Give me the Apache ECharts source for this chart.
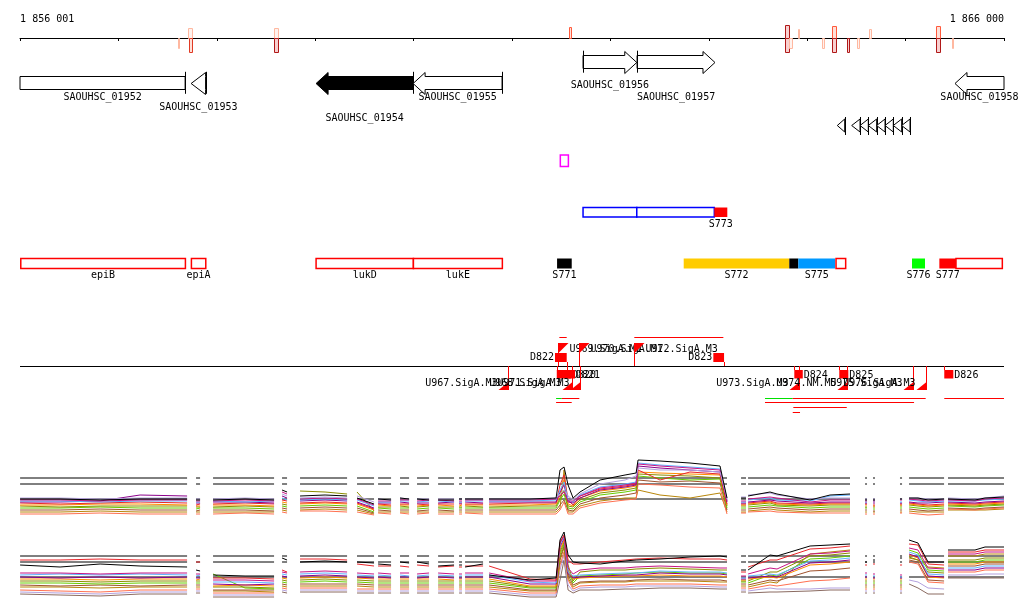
<!DOCTYPE html>
<html><head><meta charset="utf-8">
<script src="https://cdn.jsdelivr.net/npm/echarts@6/dist/echarts.min.js"></script>
<style>html,body{margin:0;padding:0;background:#fff}#c{width:1024px;height:611px}</style>
</head><body><div id="c"></div>
<script>
// ---------------- DATA ----------------
const XMIN = 1856000, XMAX = 1866000;
const axisEndLabels = [[1856001, '1 856 001'], [1866000, '1 866 000']];

// signal marks on the coordinate axis: [start, end, signed height, intensity level]
const signalMarks = [
  [1857607, 1857622, -10, 1],
  [1857708, 1857746, 10, 1], [1857718, 1857746, -14, 3],
  [1858582, 1858620, 10, 1], [1858582, 1858620, -14, 4],
  [1861580, 1861600, 11, 2],
  [1863775, 1863812, 13, 4], [1863775, 1863812, -14, 4],
  [1863815, 1863846, -10, 1],
  [1863904, 1863917, 9, 1],
  [1864148, 1864164, -10, 1],
  [1864252, 1864290, 12, 2], [1864252, 1864290, -14, 4],
  [1864405, 1864425, -14, 4],
  [1864506, 1864523, -10, 1],
  [1864628, 1864649, 9, 1],
  [1865309, 1865350, 12, 2], [1865309, 1865350, -14, 4],
  [1865469, 1865482, -10, 1]
];

// genes: [name, start, end, strand]
const genes = [
  ['SAOUHSC_01952', 1855600, 1857678, -1],
  ['SAOUHSC_01953', 1857739, 1857886, -1],
  ['SAOUHSC_01954', 1859009, 1859995, -1],
  ['SAOUHSC_01955', 1859995, 1860899, -1],
  ['SAOUHSC_01956', 1861722, 1862268, 1],
  ['SAOUHSC_01957', 1862271, 1863063, 1],
  ['SAOUHSC_01958', 1865502, 1866400, -1]
];
const selectedGene = 'SAOUHSC_01954';

// small reverse-strand elements: [start, end]
const smallElements = [
  [1864306, 1864381], [1864452, 1864537], [1864537, 1864621], [1864621, 1864706],
  [1864706, 1864791], [1864791, 1864875], [1864875, 1864960], [1864960, 1865045]
];

const probeMarks = [[1861491, 1861573]];

// S773 parts: [label, start, end, kind]
const s773Parts = [
  ['', 1861722, 1862268, 'blueOutline'],
  ['', 1862268, 1863056, 'blueOutline'],
  ['S773', 1863056, 1863188, 'red']
];

// annotated features: [label, start, end, kind]
const features = [
  ['epiB', 1856008, 1857681, 'outline'],
  ['epiA', 1857742, 1857888, 'outline'],
  ['lukD', 1859009, 1859998, 'outline'],
  ['lukE', 1859998, 1860902, 'outline'],
  ['S771', 1861458, 1861607, 'black'],
  ['S772', 1862745, 1863818, 'yellow'],
  ['', 1863818, 1863910, 'black'],
  ['S775', 1863910, 1864283, 'blue'],
  ['', 1864293, 1864391, 'outline'],
  ['S776', 1865065, 1865197, 'green'],
  ['S777', 1865343, 1865512, 'red'],
  ['', 1865512, 1865983, 'outline']
];

// TSS markers: [position, label]
const tssPlus = [[1861471, 'U969.SigA.M1'], [1861684, 'U970.SigA.M1'], [1862243, 'U972.SigA.M3']];
const tssMinus = [
  [1860963, 'U967.SigA.M3'], [1861607, 'U968.SigA.M3'], [1861692, 'U971.SigA.M3'],
  [1863920, 'U973.SigA.M3'], [1864402, 'U974.NM.M5'], [1865075, 'U975.SigA.M3'], [1865204, 'U976.SigA.M3']
];
// D segments: [label, start, end, strand]
const dSegments = [
  ['D822', 1861437, 1861556, 1],
  ['D823', 1863046, 1863155, 1],
  ['D820', 1861455, 1861600, -1],
  ['D821', 1861560, 1861640, -1],
  ['D824', 1863869, 1863955, -1],
  ['D825', 1864326, 1864418, -1],
  ['D826', 1865393, 1865485, -1]
];
// transcript lines: [start, end, lane, type]
const transcripts = [
  [1861481, 1861556, -1, 'r'], [1862243, 1863148, -1, 'r'],
  [1861448, 1861506, 0, 'g'], [1861506, 1861684, 0, 'r'], [1863571, 1863853, 0, 'g'],
  [1863853, 1865204, 0, 'r'], [1865393, 1866000, 0, 'r'],
  [1861448, 1861607, 1, 'r'], [1863571, 1865086, 1, 'r'],
  [1863859, 1864402, 2, 'r'],
  [1863853, 1863927, 3, 'r']
];

// expression profiles
const coveredRegions = [
  [1856001, 1857698], [1857789, 1857830], [1857962, 1858582], [1858663, 1858714], [1858846, 1859324],
  [1859425, 1859598], [1859639, 1859771], [1859862, 1859954], [1860035, 1860157], [1860249, 1860411],
  [1860462, 1860492], [1860523, 1860706], [1860767, 1863185], [1863328, 1863378], [1863399, 1864435],
  [1864588, 1864608], [1864669, 1864689], [1864943, 1864964], [1865035, 1865391], [1865431, 1866000]
];
const probePositions = [1856001,1856407,1856814,1857220,1857698, 1857789,1857830, 1857962,1858287,1858582, 1858663,1858714, 1858846,1859100,1859324, 1859425,1859598, 1859639,1859771, 1859862,1859954, 1860035,1860157, 1860249,1860411, 1860462,1860492, 1860523,1860706, 1860767,1861183,1861448,1861488,1861529,1861570,1861621,1861691,1861895,1862149,1862261,1862281,1862504,1862809,1863114,1863185, 1863328,1863378, 1863399,1863622,1863693,1864029,1864232,1864435, 1864588,1864608, 1864669,1864689, 1864943,1864964, 1865035,1865126,1865228,1865391, 1865431,1865705,1865807,1866000];

const refLevelsA = [42, 36, 21];
const refLevelsB = [44, 38, 23];

const A_blue = [19,19,18,19,19, 18,18, 19,18,19, 22,20, 20,21,20, 20,14, 18,18, 19,19, 18,19, 19,18, 18,18, 19,19, 19,19,20,30,38,20,18,25,33,36,38,57,55,53,51,20, 18,18, 20,22,20,19,24,25, 18,18, 19,19, 18,18, 20,19,18,19, 19,19,20,21];
const A_purple = [18,18,19,25,24, 17,17, 18,18,17, 24,22, 19,20,19, 18,12, 17,17, 18,17, 17,17, 17,18, 17,17, 18,17, 18,18,18,28,35,18,17,22,30,33,35,54,52,50,48,18, 17,17, 18,20,19,17,18,18, 17,17, 17,17, 17,17, 18,17,17,18, 18,17,18,19];
const A_red = [17,16,17,18,17, 15,16, 16,17,16, 20,19, 17,18,17, 17,11, 16,15, 16,16, 16,15, 16,16, 16,16, 16,16, 16,17,17,35,45,20,15,24,31,34,36,50,40,48,46,16, 16,16, 17,19,17,16,17,17, 16,16, 15,15, 16,16, 17,16,15,16, 17,16,17,18];
const A_orange = [15,15,16,16,15, 14,14, 15,15,14, 18,17, 16,17,16, 16,10, 15,14, 15,15, 14,15, 15,14, 14,15, 15,15, 15,15,16,25,40,16,14,22,29,32,34,48,47,46,45,15, 15,15, 16,18,16,15,16,16, 15,15, 14,14, 15,15, 16,15,14,15, 16,15,16,17];
const A_olive = [14,13,14,14,14, 13,13, 13,14,13, 16,15, 29,28,26, 28,9, 13,13, 14,13, 13,14, 13,13, 13,13, 14,13, 13,14,14,22,30,14,13,20,27,30,32,46,45,44,42,14, 14,14, 15,17,15,14,15,15, 13,13, 13,13, 14,14, 15,14,13,14, 15,14,15,16];
const A_green = [12,12,13,12,12, 11,12, 12,12,11, 14,13, 14,15,14, 14,8, 12,11, 12,12, 11,12, 12,11, 12,12, 12,12, 12,12,12,20,26,12,11,18,25,28,30,44,42,40,41,12, 12,12, 13,15,14,12,13,13, 12,12, 11,11, 12,12, 13,12,11,12, 14,13,14,15];
const A_sienna = [10,10,11,10,10, 9,10, 10,10,9, 12,11, 12,13,12, 12,7, 10,9, 10,10, 9,10, 10,9, 10,10, 10,10, 10,10,10,15,20,10,9,16,22,25,27,40,38,39,37,10, 10,10, 11,13,12,10,11,11, 10,10, 9,9, 10,10, 11,10,9,10, 12,11,12,13];
const A_gold = [8,8,9,8,8, 8,8, 8,8,8, 10,9, 10,11,10, 10,6, 8,8, 8,8, 8,8, 8,8, 8,8, 8,8, 8,8,8,12,50,8,8,14,19,22,22,30,25,22,27,8, 8,8, 9,11,10,8,9,9, 8,8, 8,8, 8,8, 9,8,8,8, 10,10,10,11];
const A_salmon = [6,6,7,6,6, 6,6, 6,7,6, 8,7, 9,9,8, 8,5, 7,6, 7,6, 6,7, 6,6, 6,6, 7,6, 6,6,6,10,18,6,6,12,17,20,21,36,35,33,32,6, 7,7, 8,9,8,7,7,7, 6,6, 6,6, 7,7, 7,6,5,6, 11,10,11,12];
const A_lavender = [22,22,21,22,22, 21,21, 21,22,21, 26,24, 22,23,22, 24,18, 21,20, 22,21, 21,21, 21,21, 21,21, 21,21, 21,21,22,26,30,24,20,26,36,40,44,52,50,50,48,21, 23,23, 25,27,25,21,22,22, 21,21, 21,21, 21,21, 22,22,21,21, 22,21,22,24];
const A_magenta = [20,20,19,20,20, 19,19, 19,20,19, 28,26, 21,22,21, 21,15, 19,19, 20,20, 19,20, 20,19, 19,19, 20,20, 20,20,21,24,28,19,19,24,32,35,37,56,54,52,50,19, 19,19, 21,23,22,18,20,20, 19,19, 19,19, 20,20, 21,20,19,20, 20,19,21,22];
const A_black = [21,21,20,21,21, 20,20, 20,21,20, 30,28, 24,25,24, 22,16, 21,20, 22,21, 21,20, 20,20, 21,21, 21,21, 21,21,22,50,53,35,22,28,40,45,47,60,59,57,54,22, 22,22, 24,28,26,20,25,26, 20,20, 20,20, 21,21, 22,22,20,21, 21,20,22,23];

const B_taupe = [6,5,4,6,6, 7,7, 3,3,3, 8,7, 8,8,8, 7,7, 7,7, 7,7, 7,7, 7,7, 7,7, 7,7, 7,3,3,20,40,10,7,10,10,11,11,11,12,12,11,11, 8,8, 7,8,8,9,10,10, 7,7, 7,7, 7,7, 16,12,6,6, 22,22,22,22];
const B_lavender = [8,7,6,8,8, 9,9, 5,5,5, 10,9, 10,10,10, 9,9, 9,9, 9,9, 9,9, 9,9, 9,9, 9,9, 9,5,5,30,45,15,9,12,13,13,14,14,14,14,13,13, 10,10, 9,12,11,11,12,12, 9,9, 9,9, 9,9, 20,18,12,11, 25,25,26,26];
const B_salmon = [10,9,8,10,10, 11,11, 7,7,7, 12,11, 12,12,12, 11,11, 11,11, 11,11, 11,11, 11,11, 11,11, 11,11, 11,7,7,35,48,20,11,14,15,15,16,16,16,16,15,15, 12,12, 11,15,14,19,20,22, 11,11, 11,11, 11,11, 38,36,18,17, 28,28,30,30];
const B_gold = [13,13,12,13,13, 13,13, 9,9,8, 14,13, 14,14,14, 14,13, 13,13, 13,13, 13,13, 13,13, 13,13, 13,13, 13,9,9,40,52,22,13,17,18,18,19,19,19,19,18,18, 14,14, 13,18,17,46,48,50, 13,13, 13,13, 13,13, 42,40,33,32, 44,44,46,46];
const B_sienna = [15,14,15,14,15, 15,15, 10,10,10, 16,15, 16,16,16, 16,15, 15,15, 15,15, 15,15, 15,15, 15,15, 15,15, 15,10,10,42,54,25,15,18,19,19,20,20,21,20,20,19, 16,16, 15,20,19,29,30,32, 15,15, 15,15, 15,15, 40,38,20,19, 34,34,36,36];
const B_green = [17,17,16,17,17, 17,17, 26,12,11, 18,17, 18,19,18, 18,17, 17,17, 17,17, 17,17, 17,17, 17,17, 17,17, 17,12,12,45,56,30,17,24,25,26,27,28,28,27,27,26, 18,18, 17,25,24,41,42,44, 17,17, 17,17, 17,17, 50,47,30,29, 38,38,40,40];
const B_olive = [19,19,18,19,19, 19,19, 13,13,12, 20,19, 20,21,20, 20,19, 19,19, 19,19, 19,19, 19,19, 19,19, 19,19, 19,13,13,48,58,35,19,28,30,30,31,31,32,31,30,30, 19,19, 19,28,28,44,45,47, 19,19, 19,19, 19,19, 43,40,28,27, 40,40,42,42];
const B_orange = [21,21,20,21,21, 20,21, 14,15,14, 22,21, 22,23,22, 22,21, 21,21, 21,21, 21,21, 21,20, 21,21, 21,21, 21,14,14,50,60,30,21,22,23,24,24,24,25,24,24,23, 20,20, 21,23,22,35,36,38, 21,21, 21,21, 21,21, 45,42,23,22, 36,36,38,38];
const B_purple = [23,22,23,22,23, 22,22, 16,15,16, 24,23, 24,25,24, 23,22, 23,22, 23,23, 22,23, 23,22, 22,22, 23,23, 23,16,16,53,62,26,22,23,24,25,25,26,27,26,26,25, 21,21, 22,24,23,37,38,40, 23,23, 22,22, 22,22, 46,43,24,23, 30,30,32,32];
const B_blue = [25,26,25,26,25, 24,25, 18,18,17, 26,25, 26,27,26, 25,24, 25,24, 25,24, 24,25, 25,24, 24,24, 25,25, 25,18,17,55,63,28,24,25,26,27,27,28,29,28,28,27, 22,22, 24,26,25,39,40,42, 25,25, 24,24, 23,23, 48,45,26,25, 32,32,34,34];
const B_magenta = [27,27,26,27,27, 26,26, 20,20,19, 28,27, 28,29,28, 27,26, 27,26, 27,27, 26,27, 27,26, 26,26, 27,27, 27,19,19,57,64,32,26,30,32,32,33,33,34,33,32,32, 24,24, 26,32,31,46,47,49, 27,27, 26,26, 25,25, 52,50,32,31, 46,46,48,48];
const B_red = [40,40,41,40,40, 38,38, 22,22,21, 30,28, 41,41,40, 36,34, 34,34, 34,33, 35,34, 33,34, 33,33, 34,34, 34,21,20,58,65,40,36,36,38,40,41,41,42,41,41,40, 28,28, 33,40,40,51,52,54, 35,35, 36,36, 35,35, 56,55,36,35, 48,48,50,50];
const B_black = [35,33,36,34,33, 30,29, 25,24,24, 42,40, 38,39,38, 38,37, 36,35, 38,37, 38,36, 34,35, 35,35, 33,36, 25,20,22,60,68,45,38,37,36,39,40,40,41,43,44,43, 30,30, 30,45,44,54,55,56, 38,38, 40,40, 42,42, 60,57,38,38, 50,50,53,53];

// ---------------- LAYOUT / STYLE ----------------
const LY = {
  gridTop: 38, gridHeight: 402, axisLabelY: 19, markBase: 38,
  fwdGeneY: 61.7, revGeneY: 82.8, bodyHalf: 6.5, headHalf: 11, headLen: 12,
  geneLabelY: [97, 107, 118, 97, 85, 97, 97],
  orfY: 125.5, orfHalf: 6.5, orfBarTop: 117, orfBarBot: 135,
  probeTop: 155, probeBot: 166.5,
  s773Top: 207.5, s773Bot: 217, s773LabelY: 224.5,
  featTop: 258.5, featBot: 268.5, featLabelY: 275.5,
  midY: 366, tssPlusTop: 343, flagW: 10, flagH: 10, tssMinusBot: 390, wedgeW: 10, wedgeH: 8,
  tssPlusLabelY: 349.5, tssMinusLabelY: 383.5,
  dPlusTop: 353, dPlusBot: 362, dMinusTop: 370, dMinusBot: 378.5, dPlusLabelY: 357.5, dMinusLabelY: 375.5,
  lanes: { '-1': 336.5, '0': 397.5, '1': 401.5, '2': 406.5, '3': 411.5 }
};
const FONT = '10px "DejaVu Sans Mono", monospace';
const MARK_STROKE = { 1: '#ffb8a0', 2: '#ff5a3c', 3: '#e03a24', 4: '#b01818' };
const MARK_FILL = { 1: '#fff2ee', 2: '#ffe0d8', 3: '#ffe0d8', 4: '#f8d0d0' };
const FEATURE_STYLE = {
  outline: { fill: '#fff', stroke: '#ff0000', lineWidth: 1.5 },
  blueOutline: { fill: '#fff', stroke: '#0000ff', lineWidth: 1.5 },
  black: { fill: '#000' }, yellow: { fill: '#ffcc00' }, blue: { fill: '#0099ff' },
  green: { fill: '#00ff00' }, red: { fill: '#ff0000' }
};

// ---------------- HELPERS ----------------
function ctx(params, api) {
  const cs = params.coordSys;
  return {
    L: cs.x, R: cs.x + cs.width,
    X: bp => api.coord([bp, 0])[0],
    Y: y => api.coord([XMIN, y - LY.gridTop])[1]
  };
}
const clamp = (v, a, b) => Math.max(a, Math.min(b, v));
const crisp = v => Math.round(v) + 0.5;
function txt(text, x, y, align) {
  return { type: 'text', silent: true, style: { text, x, y, font: FONT, fill: '#000',
    textAlign: align || 'center', textVerticalAlign: 'middle', align: align || 'center', verticalAlign: 'middle' } };
}
function custom(items, render, z) {
  return { type: 'custom', coordinateSystem: 'cartesian2d', xAxisIndex: 0, yAxisIndex: 0,
    silent: true, animation: false, z: z || 2,
    data: items.map(() => [XMIN, 0]),
    renderItem: (params, api) => render(items[params.dataIndex], ctx(params, api), params.dataIndex) };
}

// ---------------- SERIES ----------------
const series = [];

series.push(custom(axisEndLabels, (d, c, i) =>
  txt(d[1], c.X(d[0]), c.Y(LY.axisLabelY), i === 0 ? 'left' : 'right')));

series.push(custom(signalMarks, (d, c) => {
  const x1 = c.X(d[0]), x2 = c.X(d[1]);
  const w = Math.max(x2 - x1, 1.2);
  const base = c.Y(LY.markBase);
  const h = Math.abs(d[2]);
  const y = d[2] > 0 ? base - h : base;
  return { type: 'rect', shape: { x: Math.round(x1) + 0.5, y: Math.round(y) + 0.5, width: Math.max(Math.round(w), 1), height: h },
    style: { fill: MARK_FILL[d[3]], stroke: MARK_STROKE[d[3]], lineWidth: 1 } };
}, 3));

series.push(custom(genes, (g, c, i) => {
  const xa = c.X(g[1]), xb = c.X(g[2]);
  const yc = c.Y(g[3] > 0 ? LY.fwdGeneY : LY.revGeneY);
  const len = xb - xa;
  const head = len < 16 ? len : LY.headLen;
  const bh = LY.bodyHalf, hh = LY.headHalf;
  const ca = clamp(xa, c.L, c.R), cb = clamp(xb, c.L, c.R);
  let pts;
  if (g[3] < 0) {
    if (xa + head <= c.L) pts = [[ca, yc - bh], [cb, yc - bh], [cb, yc + bh], [ca, yc + bh]];
    else pts = [[xa, yc], [xa + head, yc - hh], [xa + head, yc - bh], [cb, yc - bh], [cb, yc + bh], [xa + head, yc + bh], [xa + head, yc + hh]];
  } else {
    if (xb - head >= c.R) pts = [[ca, yc - bh], [cb, yc - bh], [cb, yc + bh], [ca, yc + bh]];
    else pts = [[xb, yc], [xb - head, yc - hh], [xb - head, yc - bh], [ca, yc - bh], [ca, yc + bh], [xb - head, yc + bh], [xb - head, yc + hh]];
  }
  pts = pts.map(p => [p[0], Math.round(p[1]) + 0.5]);
  const sel = g[0] === selectedGene;
  const children = [{ type: 'polygon', shape: { points: pts },
    style: { fill: sel ? '#000' : '#fff', stroke: '#000', lineWidth: 1 } }];
  const tail = g[3] < 0 ? xb : xa;
  if (tail >= c.L && tail <= c.R) {
    children.push({ type: 'line', shape: { x1: crisp(tail), y1: yc - hh, x2: crisp(tail), y2: yc + hh }, style: { stroke: '#000', lineWidth: 1 } });
  }
  children.push(txt(g[0], (ca + cb) / 2, c.Y(LY.geneLabelY[i])));
  return { type: 'group', children };
}));

series.push(custom(smallElements, (d, c) => {
  const xa = c.X(d[0]), xb = c.X(d[1]);
  const y = c.Y(LY.orfY);
  return { type: 'group', children: [
    { type: 'polygon', shape: { points: [[xa, y], [xb, y - LY.orfHalf], [xb, y + LY.orfHalf]] }, style: { fill: '#fff', stroke: '#000', lineWidth: 1 } },
    { type: 'line', shape: { x1: crisp(xb), y1: c.Y(LY.orfBarTop), x2: crisp(xb), y2: c.Y(LY.orfBarBot) }, style: { stroke: '#000', lineWidth: 1 } }
  ] };
}));

series.push(custom(probeMarks, (d, c) => {
  const x1 = c.X(d[0]), x2 = c.X(d[1]);
  const y1 = c.Y(LY.probeTop), y2 = c.Y(LY.probeBot);
  return { type: 'rect', shape: { x: x1, y: y1, width: x2 - x1, height: y2 - y1 }, style: { fill: '#fff', stroke: '#ff00ff', lineWidth: 1.5 } };
}));

function boxRender(top, bot, labelY) {
  return (d, c) => {
    const x1 = c.X(d[1]), x2 = c.X(d[2]);
    const y1 = c.Y(top), y2 = c.Y(bot);
    const st = FEATURE_STYLE[d[3]];
    const children = [{ type: 'rect', shape: { x: x1, y: y1, width: x2 - x1, height: y2 - y1 },
      style: { fill: st.fill, stroke: st.stroke || null, lineWidth: st.lineWidth || 0 } }];
    if (d[0]) children.push(txt(d[0], (x1 + x2) / 2, c.Y(labelY)));
    return { type: 'group', children };
  };
}
series.push(custom(s773Parts, boxRender(LY.s773Top, LY.s773Bot, LY.s773LabelY)));
series.push(custom(features, boxRender(LY.featTop, LY.featBot, LY.featLabelY)));

series.push(custom([[XMIN, XMAX]], (d, c) => {
  const y = crisp(c.Y(LY.midY));
  return { type: 'line', shape: { x1: c.X(d[0]), y1: y, x2: c.X(d[1]), y2: y }, style: { stroke: '#000', lineWidth: 1 } };
}, 2));

series.push(custom(transcripts, (d, c) => {
  const y = crisp(c.Y(LY.lanes[String(d[2])]));
  return { type: 'line', shape: { x1: c.X(d[0]), y1: y, x2: clamp(c.X(d[1]), c.L, c.R), y2: y },
    style: { stroke: d[3] === 'g' ? '#00e000' : '#ff0000', lineWidth: 1 } };
}, 3));

series.push(custom(dSegments, (d, c) => {
  const x1 = c.X(d[1]), x2 = c.X(d[2]);
  const mid = c.Y(LY.midY);
  const children = [];
  if (d[3] > 0) {
    const t = c.Y(LY.dPlusTop), b = c.Y(LY.dPlusBot);
    children.push({ type: 'rect', shape: { x: x1, y: t, width: x2 - x1, height: b - t }, style: { fill: '#ff0000' } });
    children.push({ type: 'line', shape: { x1: crisp(x2), y1: b, x2: crisp(x2), y2: mid }, style: { stroke: '#ff0000', lineWidth: 1 } });
    children.push(txt(d[0], x1 - 1, c.Y(LY.dPlusLabelY), 'right'));
  } else {
    const t = c.Y(LY.dMinusTop), b = c.Y(LY.dMinusBot);
    children.push({ type: 'rect', shape: { x: x1, y: t, width: x2 - x1, height: b - t }, style: { fill: '#ff0000' } });
    children.push({ type: 'line', shape: { x1: crisp(x1), y1: mid, x2: crisp(x1), y2: t }, style: { stroke: '#ff0000', lineWidth: 1 } });
    children.push(txt(d[0], x2 + 1, c.Y(LY.dMinusLabelY), 'left'));
  }
  return { type: 'group', children };
}, 4));

series.push(custom(tssPlus, (d, c) => {
  const x = crisp(c.X(d[0]));
  const top = c.Y(LY.tssPlusTop), mid = c.Y(LY.midY);
  return { type: 'group', children: [
    { type: 'line', shape: { x1: x, y1: mid, x2: x, y2: top }, style: { stroke: '#ff0000', lineWidth: 1 } },
    { type: 'polygon', shape: { points: [[x, top], [x + LY.flagW, top], [x, top + LY.flagH]] }, style: { fill: '#ff0000' } },
    txt(d[1], x + LY.flagW + 1, c.Y(LY.tssPlusLabelY), 'left')
  ] };
}, 4));

series.push(custom(tssMinus, (d, c) => {
  const x = crisp(c.X(d[0]));
  const bot = c.Y(LY.tssMinusBot), mid = c.Y(LY.midY);
  return { type: 'group', children: [
    { type: 'line', shape: { x1: x, y1: mid, x2: x, y2: bot }, style: { stroke: '#ff0000', lineWidth: 1 } },
    { type: 'polygon', shape: { points: [[x, bot], [x - LY.wedgeW, bot], [x, bot - LY.wedgeH]] }, style: { fill: '#ff0000' } },
    txt(d[1], x - LY.wedgeW - 1, c.Y(LY.tssMinusLabelY), 'right')
  ] };
}, 4));

// ---------------- EXPRESSION PANELS ----------------
function segIndex(p) { return coveredRegions.findIndex(s => p >= s[0] && p <= s[1]); }
function buildLine(values) {
  const out = []; let prev = -1;
  probePositions.forEach((p, i) => {
    const s = segIndex(p);
    if (prev !== -1 && s !== prev) out.push([(probePositions[i - 1] + p) / 2, '-']);
    out.push([p, values[i]]); prev = s;
  });
  return out;
}
function refLine(v) {
  const out = [];
  coveredRegions.forEach(s => { out.push([s[0], v], [s[1], v], [s[1] + 1, '-']); });
  return out;
}
function lineSeries(data, color, axis, z) {
  return { type: 'line', xAxisIndex: axis, yAxisIndex: axis, data, showSymbol: false, symbol: 'none',
    connectNulls: false, silent: true, animation: false, z: z || 2,
    lineStyle: { width: 1, color }, itemStyle: { color } };
}
refLevelsA.forEach(v => series.push(lineSeries(refLine(v), '#000', 1, 1)));
refLevelsB.forEach(v => series.push(lineSeries(refLine(v), '#000', 2, 1)));

const panelA = [
  [A_gold, '#b8860b'], [A_salmon, '#ff7050'], [A_sienna, '#a0522d'], [A_green, '#66cc00'],
  [A_olive, '#8c8c00'], [A_orange, '#ff8c00'], [A_red, '#e8262b'], [A_purple, '#8b008b'],
  [A_blue, '#5fb2ff'], [A_magenta, '#c71585'], [A_lavender, '#b3a0dd'], [A_black, '#000000']
];
const panelB = [
  [B_taupe, '#8b6b61'], [B_lavender, '#b3a0dd'], [B_salmon, '#ff7050'], [B_gold, '#b8860b'],
  [B_sienna, '#a0522d'], [B_green, '#66cc00'], [B_olive, '#8c8c00'], [B_orange, '#ff8c00'],
  [B_purple, '#8b008b'], [B_blue, '#5fb2ff'], [B_magenta, '#c71585'], [B_red, '#e8262b'], [B_black, '#000000']
];
panelA.forEach(p => series.push(lineSeries(buildLine(p[0]), p[1], 1, 3)));
panelB.forEach(p => series.push(lineSeries(buildLine(p[0]), p[1], 2, 3)));

// ---------------- CHART ----------------
const chart = echarts.init(document.getElementById('c'), null, { renderer: 'canvas' });
chart.setOption({
  backgroundColor: '#fff',
  animation: false,
  grid: [
    { left: 20, right: 20, top: LY.gridTop, height: LY.gridHeight },
    { left: 20, right: 20, top: 455, height: 65 },
    { left: 20, right: 20, top: 525, height: 75 }
  ],
  xAxis: [
    { gridIndex: 0, type: 'value', min: XMIN, max: XMAX, interval: 1000, position: 'top',
      axisLine: { show: true, onZero: false, lineStyle: { color: '#000', width: 1 } },
      axisTick: { show: true, inside: true, length: 3, lineStyle: { color: '#000', width: 1 } },
      axisLabel: { show: false }, splitLine: { show: false } },
    { gridIndex: 1, type: 'value', min: XMIN, max: XMAX, show: false, splitLine: { show: false } },
    { gridIndex: 2, type: 'value', min: XMIN, max: XMAX, show: false, splitLine: { show: false } }
  ],
  yAxis: [
    { gridIndex: 0, type: 'value', min: 0, max: LY.gridHeight, inverse: true, show: false, splitLine: { show: false } },
    { gridIndex: 1, type: 'value', min: 0, max: 65, show: false, splitLine: { show: false } },
    { gridIndex: 2, type: 'value', min: 0, max: 75, show: false, splitLine: { show: false } }
  ],
  series
});
</script></body></html>
